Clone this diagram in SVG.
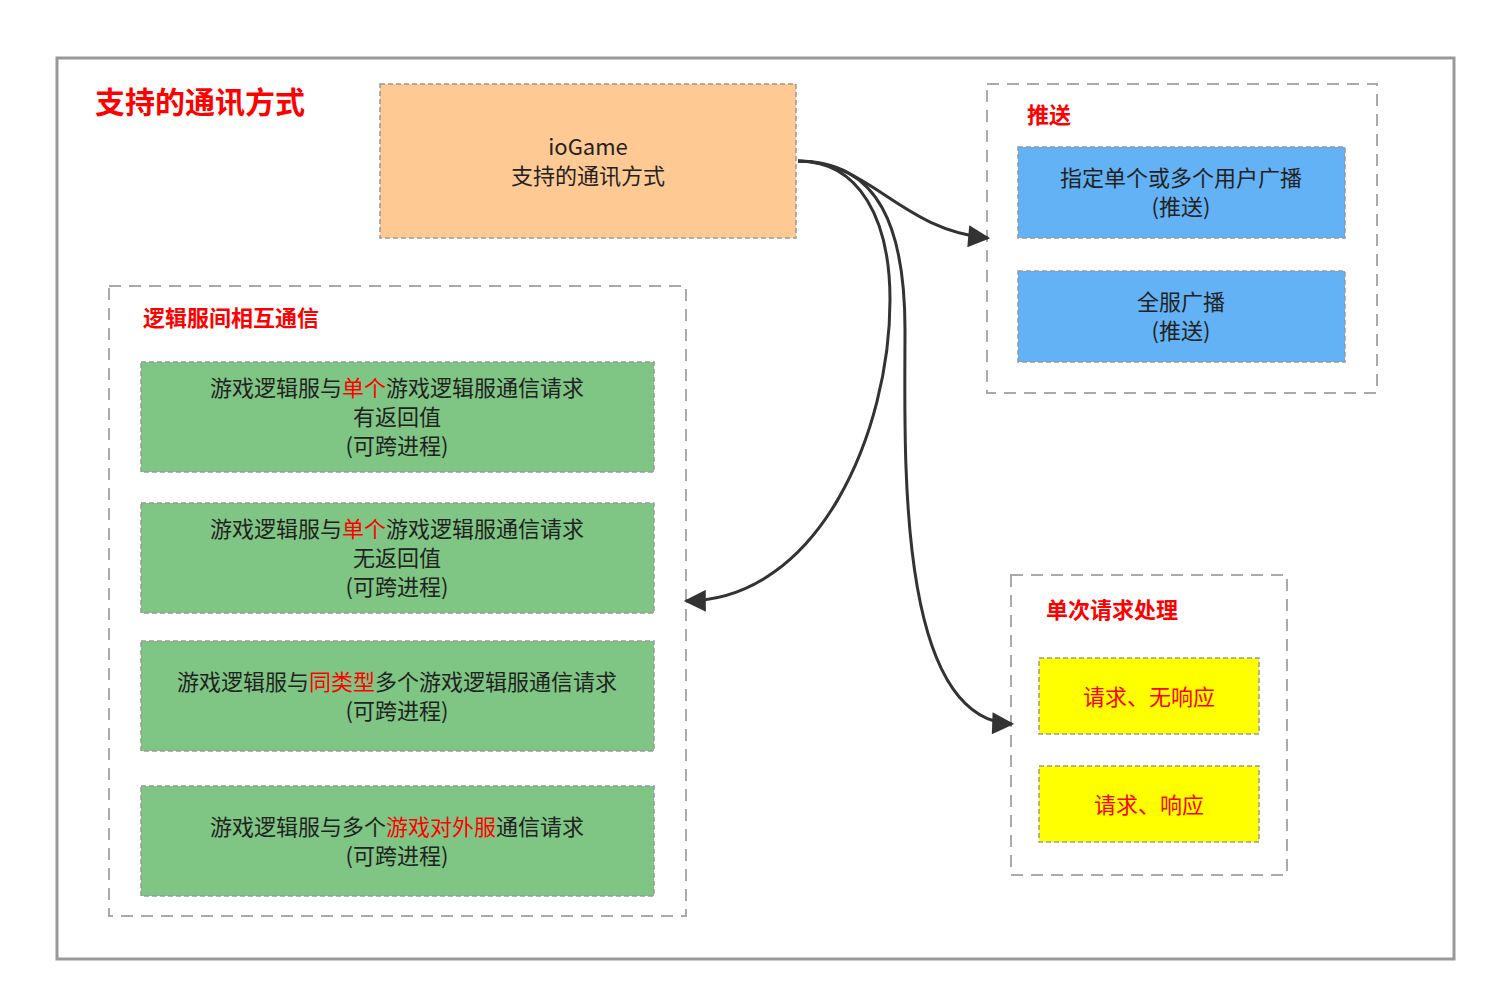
<svg xmlns="http://www.w3.org/2000/svg" width="1500" height="1004" viewBox="0 0 1500 1004">
<style>
text{font-family:"Noto Sans CJK SC","Noto Sans",sans-serif;}
.t{font-size:22px;fill:#222;text-anchor:middle}
.r{fill:#ff0000}
.h{font-size:22px;fill:#ff0000;font-weight:bold}
.grp{fill:none;stroke:#aaa;stroke-width:2;stroke-dasharray:12 8}
.box{stroke:#999;stroke-width:1.5;stroke-dasharray:5 3}
.c{fill:none;stroke:#333;stroke-width:3}
</style>
<defs><marker id="a" markerWidth="10" markerHeight="10" refX="9" refY="5" orient="auto" markerUnits="userSpaceOnUse" viewBox="0 0 10 10"><path d="M0,0L10,5L0,10z" fill="#333"/></marker>
<marker id="m" viewBox="0 0 10 10" refX="9" refY="5" markerWidth="28" markerHeight="22" orient="auto" markerUnits="userSpaceOnUse"><path d="M0,0L10,5L0,10z" fill="#333"/></marker></defs>
<rect width="1500" height="1004" fill="#fff"/>
<rect x="57" y="58" width="1397" height="901" fill="none" stroke="#999" stroke-width="3"/>
<text x="95" y="113" font-size="30" font-weight="bold" fill="#ff0000">支持的通讯方式</text>
<g id="main"><rect x="380" y="84" width="416" height="154" fill="#ffc994" class="box"/>
<text class="t" x="588" y="155">ioGame</text><text class="t" x="588" y="184">支持的通讯方式</text></g>
<g id="push"><rect class="grp" x="987" y="84" width="390" height="309"/><text class="h" x="1027" y="123">推送</text>
<g id="p1"><rect x="1018" y="147" width="327" height="91" fill="#62b2f5" class="box"/><text class="t" x="1181" y="186">指定单个或多个用户广播</text><text class="t" x="1181" y="215">(推送)</text></g>
<g id="p2"><rect x="1018" y="271" width="327" height="91" fill="#62b2f5" class="box"/><text class="t" x="1181" y="310">全服广播</text><text class="t" x="1181" y="339">(推送)</text></g></g>
<g id="logic"><rect class="grp" x="109" y="286" width="577" height="630"/><text class="h" x="143" y="326">逻辑服间相互通信</text>
<g id="l1"><rect x="141" y="362" width="513" height="110" fill="#7fc584" class="box"/><text class="t" x="397" y="396">游戏逻辑服与<tspan class="r">单个</tspan>游戏逻辑服通信请求</text><text class="t" x="397" y="425">有返回值</text><text class="t" x="397" y="454">(可跨进程)</text></g>
<g id="l2"><rect x="141" y="503" width="513" height="110" fill="#7fc584" class="box"/><text class="t" x="397" y="537">游戏逻辑服与<tspan class="r">单个</tspan>游戏逻辑服通信请求</text><text class="t" x="397" y="566">无返回值</text><text class="t" x="397" y="595">(可跨进程)</text></g>
<g id="l3"><rect x="141" y="641" width="513" height="110" fill="#7fc584" class="box"/><text class="t" x="397" y="690">游戏逻辑服与<tspan class="r">同类型</tspan>多个游戏逻辑服通信请求</text><text class="t" x="397" y="719">(可跨进程)</text></g>
<g id="l4"><rect x="141" y="786" width="513" height="110" fill="#7fc584" class="box"/><text class="t" x="397" y="835">游戏逻辑服与多个<tspan class="r">游戏对外服</tspan>通信请求</text><text class="t" x="397" y="864">(可跨进程)</text></g></g>
<g id="single"><rect class="grp" x="1011" y="575" width="276" height="300"/><text class="h" x="1046" y="618">单次请求处理</text>
<g id="s1"><rect x="1039" y="658" width="220" height="76" fill="#ffff00" class="box"/><text class="t r" x="1149" y="705">请求、无响应</text></g>
<g id="s2"><rect x="1039" y="766" width="220" height="76" fill="#ffff00" class="box"/><text class="t r" x="1149" y="813">请求、响应</text></g></g>
<g id="connectors">
<path class="c" marker-end="url(#m)" d="M798,161 C870,161 900,230 988,238"/>
<path class="c" marker-end="url(#m)" d="M798,161 C860,161 890,220 890,300 C890,430 820,600 686,601"/>
<path class="c" marker-end="url(#m)" d="M798,161 C880,161 905,230 905,330 C905,450 895,720 1012,724"/>
</g>
</svg>
